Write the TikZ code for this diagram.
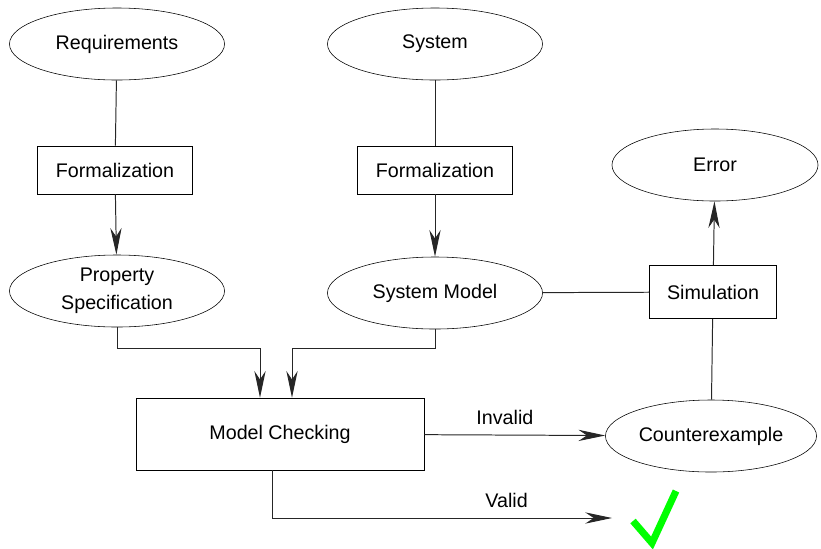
\documentclass[tikz,border=0pt]{standalone}
\usepackage{fontspec}
\setmainfont{Liberation Sans}
\usetikzlibrary{arrows.meta,shapes.geometric}

\begin{document}
\begin{tikzpicture}[
        x = 0.025cm, y = -0.025cm,
every node/.style = {font=\fontsize{14}{20}\selectfont, align=center},
   MyOval/.style = {draw, ellipse, inner sep=0pt, minimum width=5.375cm,
                    minimum height=1.8cm},
    MyBox/.style = {draw, rectangle, inner sep=0pt, minimum width=3.875cm,
                    minimum height=1.2cm},
   MyLine/.style = {draw=black!85, line width=0.7pt},
  MyArrow/.style = {MyLine, -{Stealth[length=19pt, width=8pt, inset=6pt]}},
  ]
\useasboundingbox (0,0) rectangle (821,548);
% first row
\node [MyOval] (req) at (117,44) {Requirements};
  \node [MyOval] (sys) at (435,44) {System};
  \node [MyBox] (form1) at (115,170) {Formalization};
  \node [MyBox] (form2) at (435,170) {Formalization};
  \node [MyOval, minimum width=5.15cm] (err) at (715,165) {Error};
% models
\node [MyOval] (prop) at (117,291) {Property\\Specification};
  \node [MyOval] (model) at (435,293) {System Model};
  \node [MyBox, minimum width=3.175cm, minimum height=1.325cm] (sim) at (713,292) {Simulation};
  \node [MyBox, minimum width=7.2cm, minimum height=1.8cm] (mc) at (280,434) {Model Checking};
  \node [MyOval, minimum width=5.275cm] (cex) at (711,436) {Counterexample};
  \coordinate (ok) at (612,518);
\begin{scope}
  \draw[MyLine] (req) -- (form1);
  \draw[MyArrow] (form1) -- (prop);
  \draw[MyLine] (sys) -- (form2);
  \draw[MyArrow] (form2) -- (model);
  \draw[MyArrow] (prop.south) |- (260,348) -- (mc.north -| 260,0);
  \draw[MyArrow] (model.south) |- (292,348) -- (mc.north -| 292,0);
  \draw[MyArrow] (mc) -- node[above=4pt, xshift=-7pt] {Invalid} (cex);
  \draw[MyArrow] (mc.south -| 272,0) |- node[above=4pt, pos=0.845] {Valid} (ok);
  \draw[MyLine] (model) -- (sim);
  \draw[MyLine] (cex) -- (sim);
  \draw[MyArrow] (sim) -- (err);
\end{scope}
\draw[green, line width=5pt] (633,521) -- (652,543) -- (676,491);
\end{tikzpicture}
\end{document}
